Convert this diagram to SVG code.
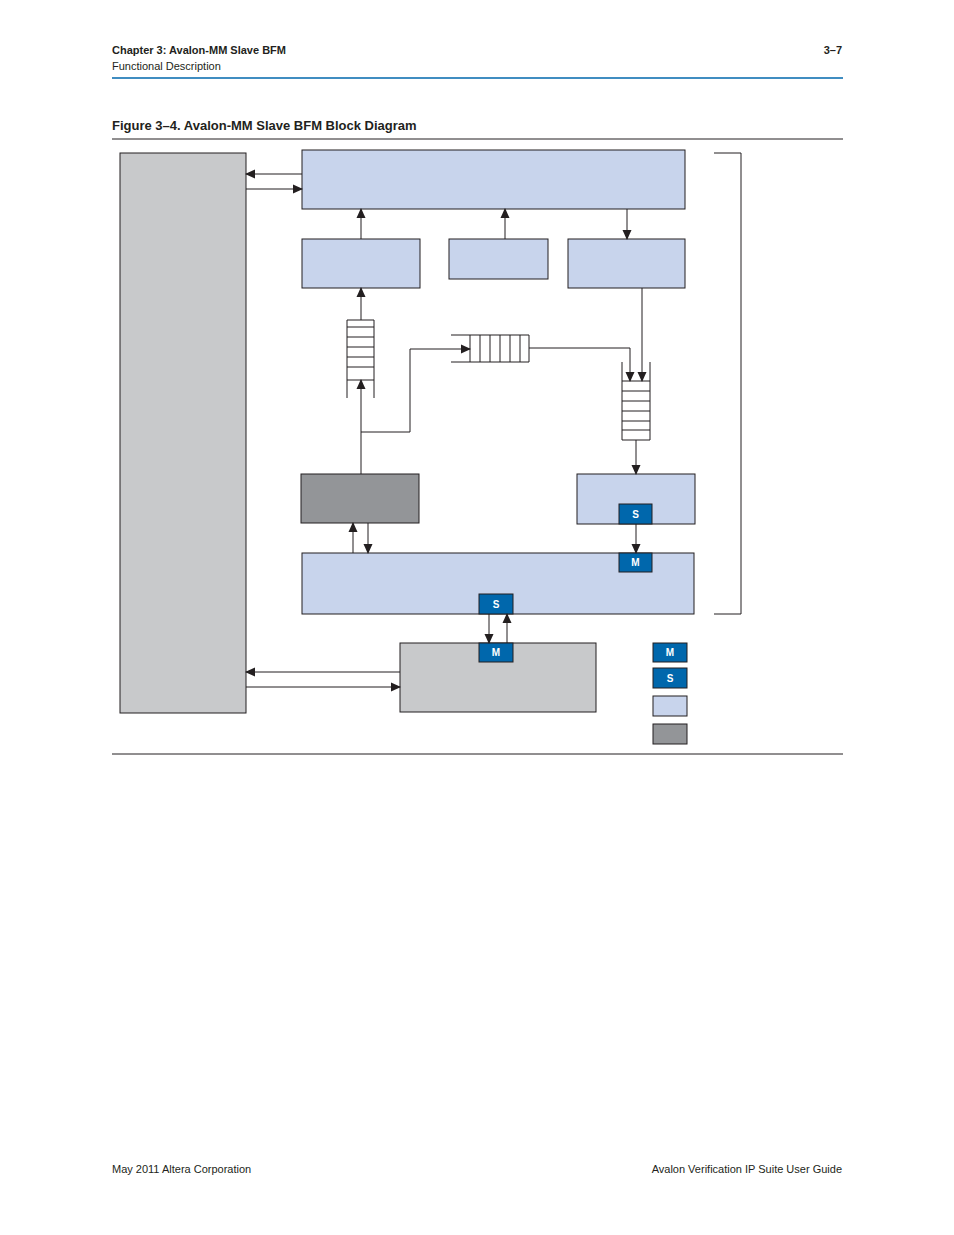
<svg xmlns="http://www.w3.org/2000/svg" width="954" height="1235" viewBox="0 0 954 1235">
<style>
.t{font-family:"Liberation Sans",Arial,sans-serif;fill:#231f20}
.b{font-weight:bold}
.lt{fill:#c8d4ec;stroke:#231f20;stroke-width:1}
.gr{fill:#c8c9cb;stroke:#231f20;stroke-width:1}
.dk{fill:#939598;stroke:#231f20;stroke-width:1}
.bd{fill:#0067ac;stroke:#231f20;stroke-width:1}
.bt{font-family:"Liberation Sans",Arial,sans-serif;font-weight:bold;font-size:10px;fill:#fff;text-anchor:middle}
.ln{fill:none;stroke:#231f20;stroke-width:1}
.ar{fill:none;stroke:#231f20;stroke-width:1;marker-end:url(#a)}
</style>
<defs><marker id="a" markerWidth="10" markerHeight="10" refX="9" refY="5" orient="auto" markerUnits="userSpaceOnUse"><path d="M0,0.5 L10,5 L0,9.5 Z" fill="#231f20"/></marker></defs>
<rect width="954" height="1235" fill="#fff"/>
<g id="header">
<text class="t b" x="112" y="54" font-size="11">Chapter 3:  Avalon-MM Slave BFM</text>
<text class="t" x="112" y="70" font-size="11">Functional Description</text>
<text class="t b" x="842" y="54" font-size="11" text-anchor="end">3–7</text>
<line x1="112" y1="78" x2="843" y2="78" stroke="#0067ac" stroke-width="1.5"/>
<text class="t b" x="112" y="130" font-size="13">Figure 3–4.  Avalon-MM Slave BFM Block Diagram</text>
<line x1="112" y1="139" x2="843" y2="139" stroke="#231f20" stroke-width="1"/>
<line x1="112" y1="754" x2="843" y2="754" stroke="#231f20" stroke-width="1"/>
</g>
<g id="footer">
<text class="t" x="112" y="1173" font-size="11">May 2011    Altera Corporation</text>
<text class="t" x="842" y="1173" font-size="11" text-anchor="end">Avalon Verification IP Suite User Guide</text>
</g>
<g id="left"><rect class="gr" x="120" y="153" width="126" height="560"/></g>
<g id="top"><rect class="lt" x="302" y="150" width="383" height="59"/></g>
<g id="box1"><rect class="lt" x="302" y="239" width="118" height="49"/></g>
<g id="box2"><rect class="lt" x="449" y="239" width="99" height="40"/></g>
<g id="box3"><rect class="lt" x="568" y="239" width="117" height="49"/></g>
<g id="dark"><rect class="dk" x="301" y="474" width="118" height="49"/></g>
<g id="slavebox"><rect class="lt" x="577" y="474" width="118" height="50"/><rect class="bd" x="619" y="504" width="33" height="20"/><text class="bt" x="635.5" y="518">S</text></g>
<g id="fabric"><rect class="lt" x="302" y="553" width="392" height="61"/><rect class="bd" x="619" y="553" width="33" height="19"/><text class="bt" x="635.5" y="566">M</text><rect class="bd" x="479" y="594" width="34" height="20"/><text class="bt" x="496" y="608">S</text></g>
<g id="lower"><rect class="gr" x="400" y="643" width="196" height="69"/><rect class="bd" x="479" y="643" width="34" height="19"/><text class="bt" x="496" y="656">M</text></g>
<g id="fifo1" class="ln">
<path d="M347,320 V398 M374,320 V398 M347,320 H374 M347,327 H374 M347,337 H374 M347,347 H374 M347,357 H374 M347,367 H374 M347,380 H374"/>
</g>
<g id="fifo2" class="ln">
<path d="M451,335 H529 M451,362 H529 M529,335 V362 M470,335 V362 M480,335 V362 M490,335 V362 M500,335 V362 M510,335 V362 M520,335 V362"/>
</g>
<g id="fifo3" class="ln">
<path d="M622,362 V440 M650,362 V440 M622,381 H650 M622,391 H650 M622,401 H650 M622,411 H650 M622,421 H650 M622,430 H650 M622,440 H650"/>
</g>
<g id="bracket"><path class="ln" d="M714,153 H741 V614 H714"/></g>
<g id="legend">
<rect class="bd" x="653" y="643" width="34" height="19"/><text class="bt" x="670" y="656">M</text>
<rect class="bd" x="653" y="668" width="34" height="20"/><text class="bt" x="670" y="682">S</text>
<rect class="lt" x="653" y="696" width="34" height="20"/>
<rect class="dk" x="653" y="724" width="34" height="20"/>
</g>
<g id="connectors">
<path class="ar" d="M302,174 H246"/>
<path class="ar" d="M246,189 H302"/>
<path class="ar" d="M361,239 V209"/>
<path class="ar" d="M505,239 V209"/>
<path class="ar" d="M627,209 V239"/>
<path class="ar" d="M361,320 V288"/>
<path class="ar" d="M361,474 V380"/>
<path class="ar" d="M361,432 H410 V349 H470"/>
<path class="ar" d="M529,348 H630 V381"/>
<path class="ar" d="M642,288 V381"/>
<path class="ar" d="M636,440 V474"/>
<path class="ar" d="M636,524 V553"/>
<path class="ar" d="M353,553 V523"/>
<path class="ar" d="M368,523 V553"/>
<path class="ar" d="M489,614 V643"/>
<path class="ar" d="M507,643 V614"/>
<path class="ar" d="M400,672 H246"/>
<path class="ar" d="M246,687 H400"/>
</g>
</svg>
